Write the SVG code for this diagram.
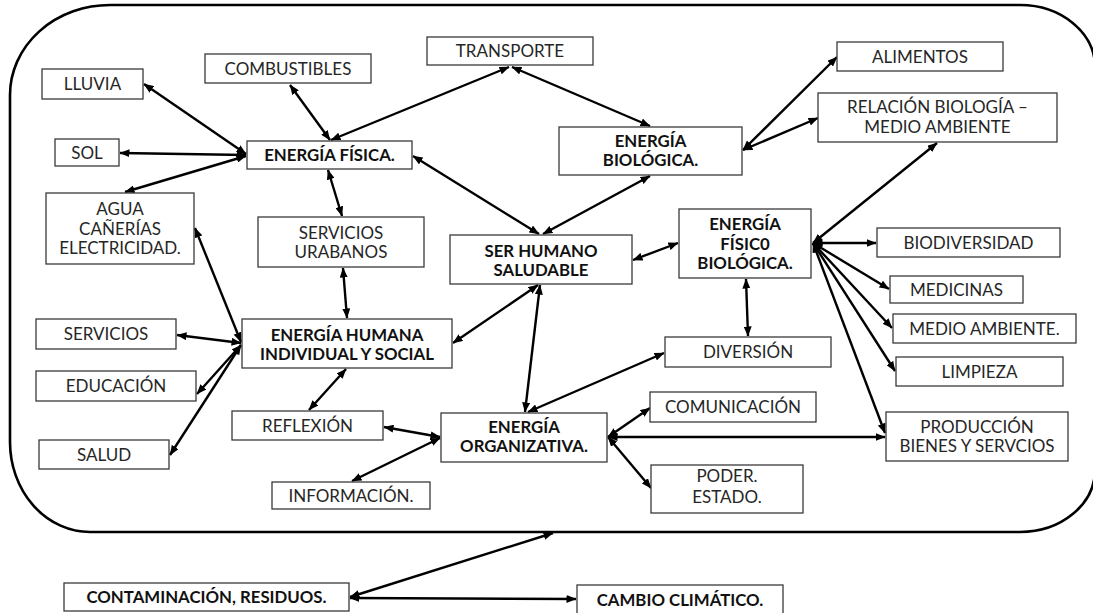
<svg xmlns="http://www.w3.org/2000/svg" width="1093" height="613" viewBox="0 0 1093 613">
  <defs>
    <marker id="arr" viewBox="0 0 10 8" refX="9.5" refY="4" markerWidth="10" markerHeight="8" markerUnits="userSpaceOnUse" orient="auto-start-reverse">
      <path d="M0,0 L10,4 L0,8 Z" fill="#000"/>
    </marker>
    <style>
      .box { fill: #fff; stroke: #3a3a3a; stroke-width: 1.3; }
      .t { font-family: Lato, "Liberation Sans", sans-serif; font-size: 17px; fill: #262626; text-anchor: middle; }
      .b { font-weight: bold; fill: #111; font-size: 16.8px; }
      .c line { stroke: #000; stroke-width: 2.4; marker-start: url(#arr); marker-end: url(#arr); }
      .frame { fill: none; stroke: #000; stroke-width: 2.6; }
    </style>
  </defs>
  <rect width="1093" height="613" fill="#fff"/>
  <path id="frame" class="frame" d="M110,5 L1020,5 A75,62 0 0 1 1095,67 L1095,470 A75,62 0 0 1 1020,532 L90,532 A80,90 0 0 1 10,442 L10,95 A100,90 0 0 1 110,5 Z"/>

  <g id="connectors" class="c">
    <line x1="144" y1="84" x2="246" y2="154"/>
    <line x1="120" y1="153" x2="246" y2="155"/>
    <line x1="125" y1="192" x2="246" y2="156"/>
    <line x1="290" y1="85" x2="330" y2="140"/>
    <line x1="509" y1="67" x2="331" y2="140"/>
    <line x1="512" y1="67" x2="650" y2="126"/>
    <line x1="413" y1="156" x2="539" y2="234"/>
    <line x1="650" y1="176" x2="543" y2="234"/>
    <line x1="837" y1="57" x2="743" y2="150"/>
    <line x1="818" y1="118" x2="743" y2="150"/>
    <line x1="813" y1="243" x2="937" y2="143"/>
    <line x1="813" y1="243" x2="876" y2="243"/>
    <line x1="813" y1="243" x2="889" y2="289"/>
    <line x1="813" y1="243" x2="892" y2="328"/>
    <line x1="813" y1="243" x2="895" y2="371"/>
    <line x1="813" y1="243" x2="885" y2="433"/>
    <line x1="608" y1="437" x2="885" y2="437"/>
    <line x1="608" y1="437" x2="650" y2="408"/>
    <line x1="608" y1="437" x2="651" y2="488"/>
    <line x1="528" y1="412" x2="664" y2="353"/>
    <line x1="525" y1="412" x2="540" y2="285"/>
    <line x1="453" y1="343" x2="538" y2="285"/>
    <line x1="633" y1="260" x2="678" y2="243"/>
    <line x1="746" y1="279" x2="748" y2="336"/>
    <line x1="328" y1="170" x2="342" y2="216"/>
    <line x1="343" y1="268" x2="347" y2="318"/>
    <line x1="195" y1="228" x2="241" y2="342"/>
    <line x1="177" y1="335" x2="241" y2="343"/>
    <line x1="197" y1="394" x2="241" y2="345"/>
    <line x1="170" y1="455" x2="241" y2="345"/>
    <line x1="346" y1="369" x2="309" y2="410"/>
    <line x1="384" y1="427" x2="440" y2="437"/>
    <line x1="440" y1="438" x2="352" y2="481"/>
    <line x1="350" y1="597" x2="553" y2="533"/>
    <line x1="350" y1="598" x2="576" y2="599"/>
  </g>

  <g id="lluvia"><rect class="box" x="42" y="69" width="101" height="30"/><text class="t" x="92.5" y="90">LLUVIA</text></g>
  <g id="combustibles"><rect class="box" x="205" y="54" width="166" height="29"/><text class="t" x="288" y="74.5">COMBUSTIBLES</text></g>
  <g id="sol"><rect class="box" x="55" y="139" width="64" height="27"/><text class="t" x="87" y="158.5">SOL</text></g>
  <g id="energia-fisica"><rect class="box" x="247" y="141" width="165" height="28"/><text class="t b" x="329.5" y="161">ENERGÍA FÍSICA.</text></g>
  <g id="agua"><rect class="box" x="46" y="193" width="148" height="71"/><text class="t" x="120" y="215">AGUA</text><text class="t" x="120" y="234.5">CAÑERÍAS</text><text class="t" x="120" y="254">ELECTRICIDAD.</text></g>
  <g id="transporte"><rect class="box" x="427" y="37" width="166" height="28"/><text class="t" x="510" y="57">TRANSPORTE</text></g>
  <g id="energia-biologica"><rect class="box" x="559" y="127" width="183" height="48"/><text class="t b" x="650.5" y="147">ENERGÍA</text><text class="t b" x="650.5" y="166">BIOLÓGICA.</text></g>
  <g id="alimentos"><rect class="box" x="837" y="42" width="166" height="29"/><text class="t" x="920" y="62.5">ALIMENTOS</text></g>
  <g id="relacion"><rect class="box" x="818" y="93" width="239" height="49"/><text class="t" x="937.5" y="113">RELACIÓN BIOLOGÍA –</text><text class="t" x="937.5" y="133">MEDIO AMBIENTE</text></g>
  <g id="servicios-urbanos"><rect class="box" x="258" y="217" width="166" height="50"/><text class="t" x="341" y="239">SERVICIOS</text><text class="t" x="341" y="258">URABANOS</text></g>
  <g id="ser-humano"><rect class="box" x="450" y="235" width="182" height="49"/><text class="t b" x="541" y="257">SER HUMANO</text><text class="t b" x="541" y="276">SALUDABLE</text></g>
  <g id="energia-fisico-biologica"><rect class="box" x="679" y="209" width="132" height="69"/><text class="t b" x="745" y="230">ENERGÍA</text><text class="t b" x="745" y="250">FÍSIC0</text><text class="t b" x="745" y="269">BIOLÓGICA.</text></g>
  <g id="servicios"><rect class="box" x="36" y="319" width="140" height="30"/><text class="t" x="106" y="340">SERVICIOS</text></g>
  <g id="energia-humana"><rect class="box" x="242" y="319" width="210" height="49"/><text class="t b" x="347" y="341">ENERGÍA HUMANA</text><text class="t b" x="347" y="360">INDIVIDUAL Y SOCIAL</text></g>
  <g id="educacion"><rect class="box" x="36" y="371" width="160" height="30"/><text class="t" x="116" y="392">EDUCACIÓN</text></g>
  <g id="reflexion"><rect class="box" x="232" y="411" width="151" height="29"/><text class="t" x="307.5" y="431.5">REFLEXIÓN</text></g>
  <g id="salud"><rect class="box" x="39" y="440" width="130" height="29"/><text class="t" x="104" y="460.5">SALUD</text></g>
  <g id="diversion"><rect class="box" x="665" y="337" width="166" height="30"/><text class="t" x="748" y="358">DIVERSIÓN</text></g>
  <g id="energia-organizativa"><rect class="box" x="441" y="413" width="166" height="49"/><text class="t b" x="524" y="433">ENERGÍA</text><text class="t b" x="524" y="452">ORGANIZATIVA.</text></g>
  <g id="comunicacion"><rect class="box" x="650" y="392" width="166" height="30"/><text class="t" x="733" y="413">COMUNICACIÓN</text></g>
  <g id="poder"><rect class="box" x="651" y="465" width="152" height="48"/><text class="t" x="727" y="482">PODER.</text><text class="t" x="727" y="503">ESTADO.</text></g>
  <g id="informacion"><rect class="box" x="272" y="482" width="158" height="27"/><text class="t" x="351" y="501.5">INFORMACIÓN.</text></g>
  <g id="biodiversidad"><rect class="box" x="877" y="228" width="183" height="29"/><text class="t" x="968.5" y="248.5">BIODIVERSIDAD</text></g>
  <g id="medicinas"><rect class="box" x="890" y="276" width="133" height="27"/><text class="t" x="956.5" y="295.5">MEDICINAS</text></g>
  <g id="medio-ambiente"><rect class="box" x="893" y="314" width="183" height="29"/><text class="t" x="984.5" y="334.5">MEDIO AMBIENTE.</text></g>
  <g id="limpieza"><rect class="box" x="896" y="357" width="167" height="29"/><text class="t" x="979.5" y="377.5">LIMPIEZA</text></g>
  <g id="produccion"><rect class="box" x="886" y="412" width="182" height="49"/><text class="t" x="977" y="433">PRODUCCIÓN</text><text class="t" x="977" y="452">BIENES Y SERVCIOS</text></g>
  <g id="contaminacion"><rect class="box" x="64" y="583" width="285" height="28"/><text class="t b" x="206.5" y="603">CONTAMINACIÓN, RESIDUOS.</text></g>
  <g id="cambio"><rect class="box" x="577" y="585" width="206" height="34"/><text class="t b" x="680" y="606">CAMBIO CLIMÁTICO.</text></g>
</svg>
